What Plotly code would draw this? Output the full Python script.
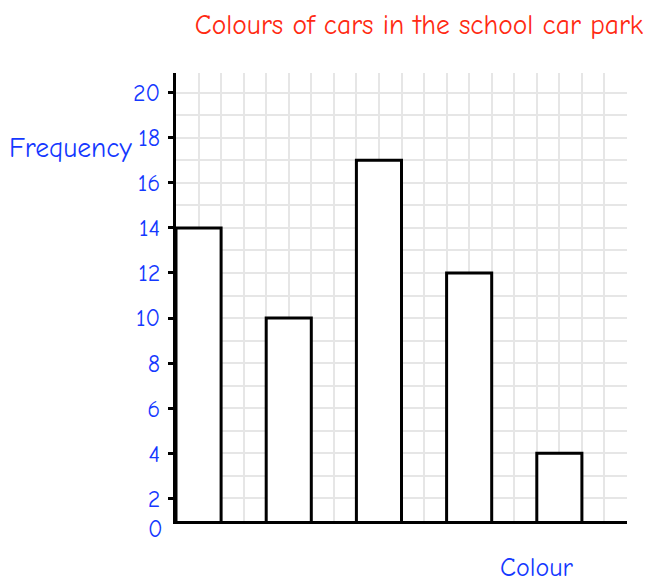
import plotly.graph_objects as go

frequencies = [14, 10, 17, 12, 4]
bar_slots = list(range(len(frequencies)))  # five colour categories (names not shown)
# In the original drawing the "0" label sits on the x-axis line, which is one grid square
# below the "2" tick (the axis line is at the 1-unit gridline).
y_tick_vals = list(range(2, 21, 2))
y_tick_text = [str(v) for v in y_tick_vals]
zero_label = "0"

title_text = "Colours of cars in the school car park"
y_title = "Frequency"
x_title = "Colour"

FONT = "Comic Sans MS, Comic Neue, Open Sans, sans-serif"
BLUE = "#1438ff"
RED = "#ff2a12"

W, H = 643, 574
L, R, T, B = 168, 24, 65, 61

x_pos = [4 * i + 1 for i in bar_slots]

fig = go.Figure()
fig.add_trace(go.Bar(
    x=x_pos, y=frequencies, width=2,
    marker=dict(color="white", line=dict(color="black", width=3)),
    hoverinfo="y",
))

fig.update_layout(
    width=W, height=H,
    margin=dict(l=L, r=R, t=T, b=B),
    paper_bgcolor="white", plot_bgcolor="white",
    showlegend=False,
    font=dict(family=FONT, color=BLUE, size=25),
    title=dict(text=title_text, x=411/W, xanchor="center", xref="container",
               y=1 - 16/H, yanchor="middle", yref="container",
               font=dict(family=FONT, color=RED, size=27.5)),
    annotations=[
        dict(text=y_title, xref="paper", yref="paper", x=-0.09, y=0.833,
             xanchor="right", yanchor="middle", showarrow=False,
             font=dict(family=FONT, color=BLUE, size=27.5)),
        dict(text=x_title, xref="paper", yref="paper", x=0.80, y=-0.105,
             xanchor="center", yanchor="middle", showarrow=False,
             font=dict(family=FONT, color=BLUE, size=26)),
        dict(text=zero_label, xref="paper", yref="paper", x=-0.027, y=-0.017,
             xanchor="right", yanchor="middle", showarrow=False, borderpad=0,
             font=dict(family=FONT, color=BLUE, size=24)),
    ],
)

fig.update_xaxes(
    range=[0, 20], dtick=1, tick0=0, showticklabels=False, ticks="",
    showgrid=True, gridcolor="#e6e6e6", gridwidth=2,
    showline=True, linecolor="black", linewidth=3,
    zeroline=False, fixedrange=True,
)
fig.update_yaxes(
    range=[1, 20.87], tickvals=y_tick_vals, ticktext=y_tick_text,
    ticks="outside", ticklen=5, tickwidth=3, tickcolor="black",
    ticklabelstandoff=3,
    tickfont=dict(family=FONT, color=BLUE, size=24),
    showgrid=True, gridcolor="#e6e6e6", gridwidth=2,
    minor=dict(dtick=1, tick0=0, showgrid=True, gridcolor="#e6e6e6", gridwidth=2, ticks=""),
    showline=True, linecolor="black", linewidth=3,
    zeroline=False, fixedrange=True,
)

fig.write_html("out.html")
